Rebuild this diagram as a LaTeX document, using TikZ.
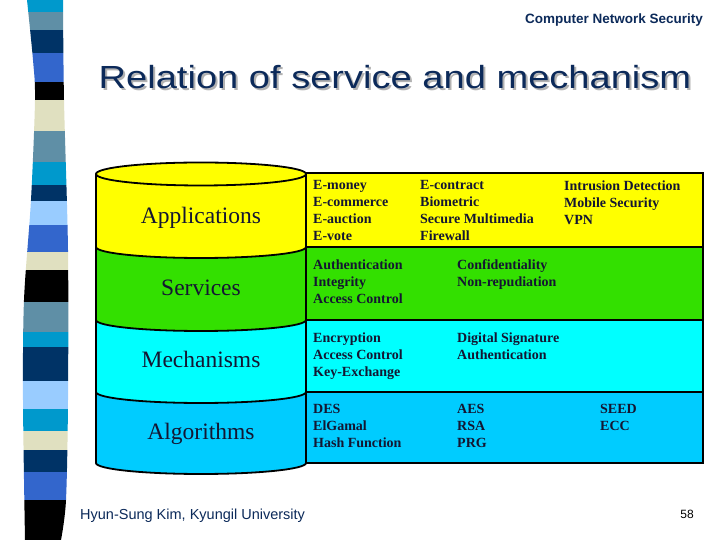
\documentclass[tikz,border=0pt]{standalone}
\usepackage{fontspec}
\setmainfont{Liberation Serif}
\newfontfamily\arialf{Liberation Sans}
\definecolor{yellowc}{RGB}{255,255,0}
\definecolor{greenc}{RGB}{51,224,0}
\definecolor{cyanc}{RGB}{0,255,255}
\definecolor{bluec}{RGB}{0,204,255}
\definecolor{txt}{RGB}{20,22,50}
\definecolor{navy}{RGB}{12,42,90}
\definecolor{sCyan}{RGB}{0,153,204}
\definecolor{sSteel}{RGB}{95,143,166}
\definecolor{sNavy}{RGB}{0,51,102}
\definecolor{sRoyal}{RGB}{51,102,204}
\definecolor{sBlack}{RGB}{0,0,0}
\definecolor{sBeige}{RGB}{224,224,192}
\definecolor{sLight}{RGB}{153,204,255}
\newcommand{\titletext}{\scalebox{1.19}[1]{Relation of service and mechanism}}
\tikzset{
  outl/.style={line width=1.8pt, draw=black},
  cell/.style={anchor=north west, inner sep=0pt, align=left, text=txt,
    font=\fontsize{14}{17}\selectfont\bfseries},
  layerlabel/.style={anchor=base, inner sep=0pt, text=txt,
    font=\fontsize{23.5}{27}\selectfont},
}
\begin{document}
\begin{tikzpicture}[x=1pt,y=1pt]
\useasboundingbox (0,0) rectangle (720,540);
\fill[white] (0,0) rectangle (720,540);
% left striped band
\begin{scope}
\clip plot[smooth] coordinates {(27,540)(33,480)(35,440)(31,340)(24,240)(23,140)(25,0)}
  -- plot[smooth] coordinates {(61,0)(66,40)(68,140)(68,290)(64,440)(63,540)} -- cycle;
\foreach \a/\b/\c in {0/12/sCyan,12/30/sSteel,30/53/sNavy,53/82/sRoyal,82/100/sBlack,
  100/131/sBeige,131/162/sSteel,162/185/sCyan,185/201/sNavy,201/225/sLight,
  225/252/sRoyal,252/270/sBeige,270/302/sBlack,302/332/sSteel,332/347/sCyan,
  347/381/sNavy,381/409/sLight,409/431/sCyan,431/450/sBeige,450/472/sNavy,
  472/500/sRoyal,500/540/sBlack}
  \fill[\c] (0,{540-\a}) rectangle (90,{540-\b});
\end{scope}
% header, title, footer
\node[anchor=base east, inner sep=0pt, text=navy, font=\arialf\bfseries\fontsize{13.5}{16}\selectfont] (hdr) at (703,516) {Computer Network Security};
\node[anchor=base, inner sep=0pt, text=navy, font=\arialf\fontsize{32}{38}\selectfont] (title) at (395,451)
  {\makebox[0pt][l]{\hspace{2pt}\raisebox{-2pt}{\color{black!30}\titletext}}\titletext};
\node[anchor=base west, inner sep=0pt, text=navy, font=\arialf\fontsize{14.5}{17}\selectfont] (footer) at (80,20) {Hyun-Sung Kim, Kyungil University};
\node[anchor=base, inner sep=0pt, text=black, font=\arialf\fontsize{12}{14}\selectfont] (pagenum) at (687,21) {58};
% right boxes
\draw[outl, fill=yellowc] (306,367) rectangle (703,293);
\draw[outl, fill=greenc] (306,293) rectangle (703,220);
\draw[outl, fill=cyanc] (306,220) rectangle (703,148);
\draw[outl, fill=bluec] (306,148) rectangle (703,77);
% cylinder layers
\fill[yellowc] (96,366) -- (96,293) arc[start angle=180,end angle=360,x radius=105,y radius=11] -- (306,366) -- cycle;
\fill[greenc] (96,293) arc[start angle=180,end angle=360,x radius=105,y radius=11] -- (306,220) arc[start angle=0,end angle=-180,x radius=105,y radius=11] -- cycle;
\fill[cyanc] (96,220) arc[start angle=180,end angle=360,x radius=105,y radius=11] -- (306,148) arc[start angle=0,end angle=-180,x radius=105,y radius=11] -- cycle;
\fill[bluec] (96,148) arc[start angle=180,end angle=360,x radius=105,y radius=11] -- (306,77) arc[start angle=0,end angle=-180,x radius=105,y radius=11] -- cycle;
\draw[outl] (96,366) -- (96,77) arc[start angle=180,end angle=360,x radius=105,y radius=11] -- (306,366);
\draw[outl] (96,293) arc[start angle=180,end angle=360,x radius=105,y radius=11];
\draw[outl] (96,220) arc[start angle=180,end angle=360,x radius=105,y radius=11];
\draw[outl] (96,148) arc[start angle=180,end angle=360,x radius=105,y radius=11];
\draw[outl, fill=yellowc] (201,366) ellipse[x radius=105,y radius=11.5];
% layer labels
\node[layerlabel] (app) at (201,316) {Applications};
\node[layerlabel] (svc) at (201,244) {Services};
\node[layerlabel] (mech) at (201,172) {Mechanisms};
\node[layerlabel] (alg) at (201,100) {Algorithms};
% cell texts
\node[cell] (a1) at (313,359.5) {E-money\\E-commerce\\E-auction\\E-vote};
\node[cell] (a2) at (420,359.5) {E-contract\\Biometric\\Secure Multimedia\\Firewall};
\node[cell] (a3) at (564,359.5) {Intrusion Detection\\Mobile Security\\VPN};
\node[cell] (s1) at (313,280.5) {Authentication\\Integrity\\Access Control};
\node[cell] (s2) at (457,280.5) {Confidentiality\\Non-repudiation};
\node[cell] (m1) at (313,207.5) {Encryption\\Access Control\\Key-Exchange};
\node[cell] (m2) at (457,207.5) {Digital Signature\\Authentication};
\node[cell] (g1) at (313,136.3) {DES\\ElGamal\\Hash Function};
\node[cell] (g2) at (457,136.3) {AES\\RSA\\PRG};
\node[cell] (g3) at (600,136.3) {SEED\\ECC};
\end{tikzpicture}
\end{document}
